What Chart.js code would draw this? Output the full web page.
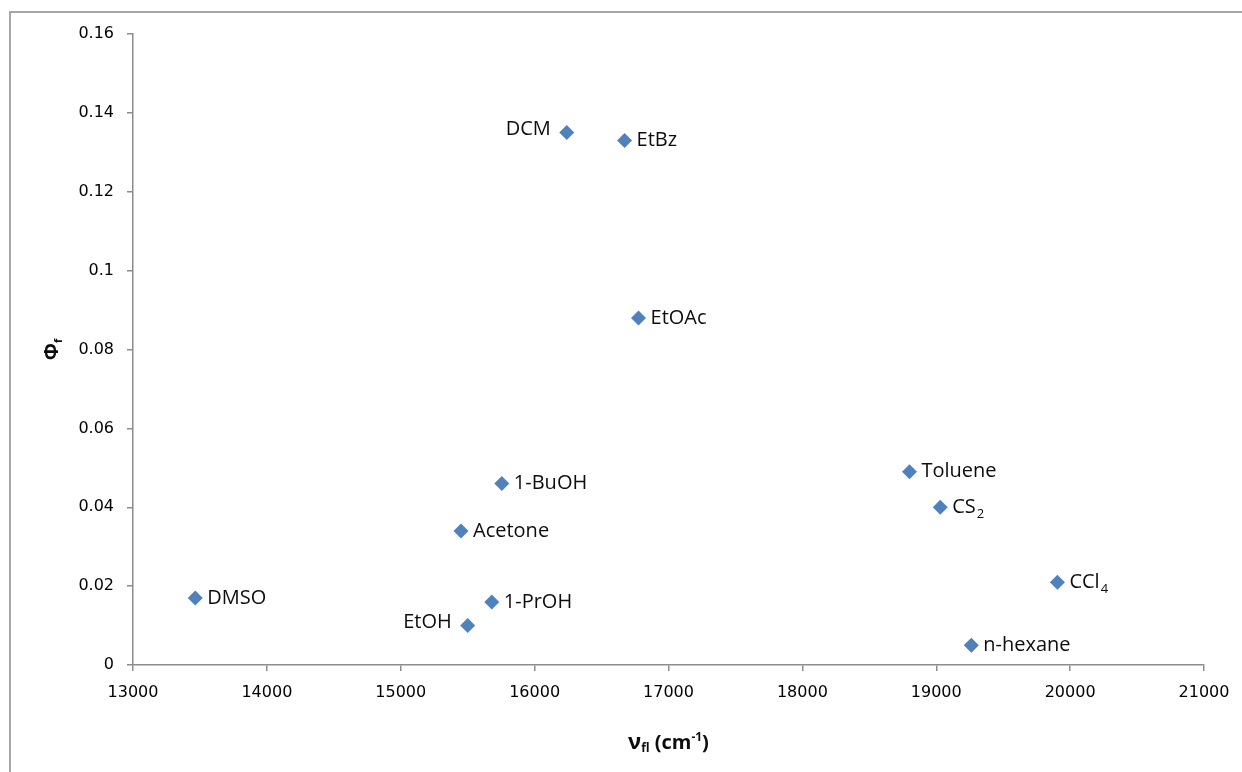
<!DOCTYPE html>
<html>
<head>
<meta charset="utf-8">
<script src="https://cdn.jsdelivr.net/npm/chart.js@4/dist/chart.umd.min.js"></script>
<style>
html,body{margin:0;padding:0;background:#fff;overflow:hidden;}
canvas{display:block;}
</style>
</head>
<body>
<canvas id="c" width="1242" height="772"></canvas>
<script>
// Data
const solvents = ["DMSO","EtOH","1-PrOH","Acetone","1-BuOH","DCM","EtBz","EtOAc","Toluene","CS_2","CCl_4","n-hexane"];
const nuFl     = [13465, 15500, 15680, 15450, 15755, 16240, 16672, 16776, 18800, 19030, 19905, 19262];
const phiF     = [0.017, 0.010, 0.016, 0.034, 0.046, 0.135, 0.133, 0.088, 0.049, 0.040, 0.021, 0.005];
const labelSide= ["r","l","r","r","r","l","r","r","r","r","r","r"];

const xTicksMin = 13000, xTicksMax = 21000, xStep = 1000;
const yTicksMin = 0, yTicksMax = 0.16, yStep = 0.02;

const LABEL_FONT = '20px "Open Sans"';
const SUB_FONT = '13px "Open Sans"';

function drawRich(ctx, text, x, y, align, mainFont, subFont) {
  const parts = text.split('_');
  ctx.font = mainFont;
  const w0 = ctx.measureText(parts[0]).width;
  let w1 = 0;
  if (parts[1]) { ctx.font = subFont; w1 = ctx.measureText(parts[1]).width; }
  const total = w0 + w1;
  let sx = align === 'l' ? x - total : x;
  ctx.textAlign = 'left';
  ctx.textBaseline = 'middle';
  ctx.font = mainFont;
  ctx.fillText(parts[0], sx, y);
  if (parts[1]) { ctx.font = subFont; ctx.fillText(parts[1], sx + w0 + 1, y + 7); }
}

const framePlugin = {
  id: 'frame',
  beforeDraw(chart) {
    const ctx = chart.ctx;
    ctx.save();
    ctx.strokeStyle = '#a6a6a6';
    ctx.lineWidth = 2;
    ctx.beginPath();
    ctx.moveTo(10, 772);
    ctx.lineTo(10, 12);
    ctx.lineTo(1242, 12);
    ctx.stroke();
    ctx.restore();
  }
};

const labelPlugin = {
  id: 'labels',
  afterDatasetsDraw(chart) {
    const ctx = chart.ctx;
    const meta = chart.getDatasetMeta(0);
    ctx.save();
    ctx.fillStyle = '#0d0d0d';
    meta.data.forEach((pt, i) => {
      if (labelSide[i] === 'l') {
        drawRich(ctx, solvents[i], pt.x - 16, pt.y - 3, 'l', LABEL_FONT, SUB_FONT);
      } else {
        drawRich(ctx, solvents[i], pt.x + 12, pt.y, 'r', LABEL_FONT, SUB_FONT);
      }
    });
    const ca = chart.chartArea;
    // X title
    ctx.textBaseline = 'alphabetic';
    ctx.textAlign = 'left';
    const segs = [
      {t:'ν', f:'bold 22px "Open Sans"', dy:0},
      {t:'fl', f:'bold 12px "Open Sans"', dy:3},
      {t:' (cm', f:'bold 20px "Open Sans"', dy:0},
      {t:'-1', f:'bold 12px "Open Sans"', dy:-8},
      {t:')', f:'bold 20px "Open Sans"', dy:0}
    ];
    let tw = 0;
    segs.forEach(s => { ctx.font = s.f; s.w = ctx.measureText(s.t).width; tw += s.w; });
    let sx = (ca.left + ca.right) / 2 - tw / 2;
    const by = 749;
    segs.forEach(s => { ctx.font = s.f; ctx.fillText(s.t, sx, by + s.dy); sx += s.w; });
    // Y title
    ctx.translate(58, (ca.top + ca.bottom) / 2);
    ctx.rotate(-Math.PI / 2);
    ctx.font = 'bold 20px "Open Sans"';
    const wp = ctx.measureText('Φ').width;
    ctx.font = 'bold 11px "Open Sans"';
    const wf = ctx.measureText('f').width;
    let yx = -(wp + wf) / 2;
    ctx.font = 'bold 20px "Open Sans"';
    ctx.fillText('Φ', yx, 0);
    ctx.font = 'bold 11px "Open Sans"';
    ctx.fillText('f', yx + wp, 4);
    ctx.restore();
  }
};

const points = nuFl.map((x, i) => ({x: x, y: phiF[i]}));

new Chart(document.getElementById('c'), {
  type: 'scatter',
  data: {
    datasets: [{
      data: points,
      pointStyle: 'rectRot',
      pointRadius: 7.5,
      pointHoverRadius: 7.5,
      backgroundColor: '#4f81bd',
      borderColor: '#4f81bd',
      borderWidth: 0
    }]
  },
  options: {
    responsive: false,
    animation: false,
    events: [],
    layout: { padding: { top: 34, right: 38, left: 0, bottom: 0 } },
    plugins: { legend: { display: false }, tooltip: { enabled: false } },
    scales: {
      x: {
        type: 'linear',
        min: xTicksMin, max: xTicksMax,
        afterFit(s) { s.height = 772 - 665; },
        ticks: { stepSize: xStep, padding: 12, color: '#000', font: { family: 'DejaVu Sans', size: 16 }, maxRotation: 0,
                 callback: v => String(v) },
        grid: { drawOnChartArea: false, drawTicks: true, tickLength: 6, color: '#8c8c8c', lineWidth: 1.5 },
        border: { color: '#8c8c8c', width: 1.5 }
      },
      y: {
        type: 'linear',
        min: yTicksMin, max: yTicksMax,
        afterFit(s) { s.width = 133; },
        ticks: { stepSize: yStep, padding: 13, color: '#000', font: { family: 'DejaVu Sans', size: 16 },
                 callback: v => String(+v.toFixed(2)) },
        grid: { drawOnChartArea: false, drawTicks: true, tickLength: 6, color: '#8c8c8c', lineWidth: 1.5 },
        border: { color: '#8c8c8c', width: 1.5 }
      }
    }
  },
  plugins: [framePlugin, labelPlugin]
});
</script>
</body>
</html>
